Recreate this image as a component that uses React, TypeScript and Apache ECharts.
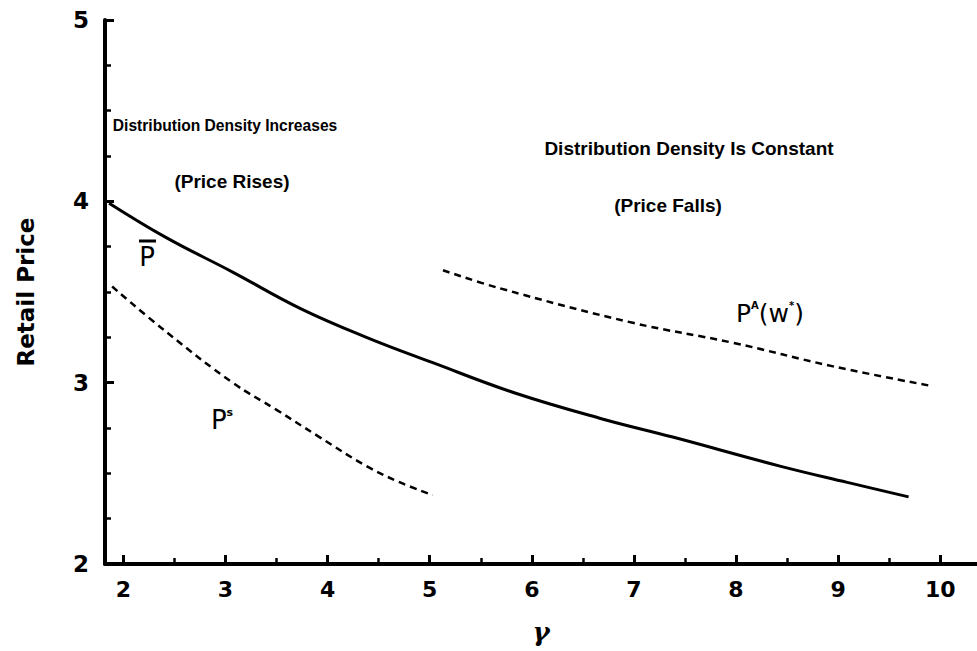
import React, { useEffect, useRef } from "react";
import * as echarts from "echarts";

// Axis ticks
const xTickValues = [2, 3, 4, 5, 6, 7, 8, 9, 10];
const xMinorTickValues = [2.5, 3.5, 4.5, 5.5, 6.5, 7.5, 8.5, 9.5];

// P-bar (solid)
const pBarX = [1.86, 2.42, 3.07, 3.73, 4.38, 5.03, 5.85, 6.69, 7.38, 8.43, 9.09, 9.69];
const pBarY = [3.99, 3.8, 3.61, 3.41, 3.25, 3.11, 2.94, 2.8, 2.7, 2.54, 2.45, 2.37];

// P^s (dashed)
const psX = [1.89, 2.42, 3.07, 3.5, 3.92, 4.38, 4.71, 5.03];
const psY = [3.53, 3.28, 3.0, 2.85, 2.7, 2.54, 2.45, 2.38];

// P^A(w*) (dashed)
const paX = [5.13, 5.69, 6.99, 7.97, 8.95, 9.93];
const paY = [3.62, 3.52, 3.33, 3.22, 3.09, 2.98];

const zip = (xs: number[], ys: number[]) => xs.map((x, i) => [x, ys[i]]);

const annFont = "Liberation Sans";
const numFont = "DejaVu Sans";

export default function App() {
  const ref = useRef<HTMLDivElement>(null);
  useEffect(() => {
    if (!ref.current) return;
    const chart = echarts.init(ref.current, null, { renderer: "svg" });
    const black = "#000";
    chart.setOption({
      animation: false,
      backgroundColor: "#fff",
      grid: { left: 105, right: 0, top: 20, bottom: 87, outerBoundsMode: "none", containLabel: false },
      xAxis: [
        {
          type: "value",
          min: 1.82,
          max: 10.36,
          axisLine: { show: true, lineStyle: { color: black, width: 4 } },
          axisTick: { show: true, inside: true, length: 9, lineStyle: { color: black, width: 3 }, customValues: xTickValues },
          axisLabel: {
            customValues: xTickValues,
            margin: 14,
            fontSize: 22,
            fontWeight: "bold",
            fontFamily: numFont,
            color: black,
          },
          splitLine: { show: false },
          name: "γ",
          nameLocation: "middle",
          nameGap: 55,
          nameTextStyle: {
            fontSize: 26,
            lineHeight: 26,
            fontWeight: "bold",
            fontStyle: "italic",
            fontFamily: "DejaVu Serif",
            color: black,
          },
        },
        {
          type: "value",
          position: "bottom",
          offset: 0,
          min: 1.82,
          max: 10.36,
          axisLine: { show: false },
          axisTick: { show: true, inside: true, length: 6, lineStyle: { color: black, width: 2.5 }, customValues: xMinorTickValues },
          axisLabel: { show: false },
          splitLine: { show: false },
        },
      ],
      yAxis: {
        type: "value",
        min: 2,
        max: 5,
        interval: 1,
        axisLine: { show: true, lineStyle: { color: black, width: 4 } },
        axisTick: { show: true, inside: true, length: 9, lineStyle: { color: black, width: 3 } },
        minorTick: { show: true, splitNumber: 4, length: 6, lineStyle: { color: black, width: 2.5 } },
        axisLabel: { margin: 16, fontSize: 23, fontWeight: "bold", fontFamily: numFont, color: black },
        splitLine: { show: false },
        minorSplitLine: { show: false },
        name: "Retail Price",
        nameLocation: "middle",
        nameGap: 68,
        nameTextStyle: { fontSize: 23, fontWeight: "bold", fontFamily: numFont, color: black },
      },
      series: [
        {
          type: "line",
          name: "Pbar",
          data: zip(pBarX, pBarY),
          smooth: 0.4,
          symbol: "none",
          lineStyle: { color: black, width: 3 },
        },
        {
          type: "line",
          name: "Ps",
          data: zip(psX, psY),
          smooth: 0.4,
          symbol: "none",
          lineStyle: { color: black, width: 2.5, type: [7, 5] },
        },
        {
          type: "line",
          name: "PA",
          data: zip(paX, paY),
          smooth: 0.4,
          symbol: "none",
          lineStyle: { color: black, width: 2.5, type: [7, 5] },
        },
      ],
      graphic: [
        {
          type: "text",
          x: 225,
          y: 125,
          style: {
            text: "Distribution Density Increases",
            font: `bold 15.6px "${annFont}"`,
            fill: black,
            align: "center",
            verticalAlign: "middle",
          },
        },
        {
          type: "text",
          x: 232,
          y: 181,
          style: { text: "(Price Rises)", font: `bold 19px "${annFont}"`, fill: black, align: "center", verticalAlign: "middle" },
        },
        {
          type: "text",
          x: 689,
          y: 148,
          style: {
            text: "Distribution Density Is Constant",
            font: `bold 19px "${annFont}"`,
            fill: black,
            align: "center",
            verticalAlign: "middle",
          },
        },
        {
          type: "text",
          x: 668,
          y: 205,
          style: { text: "(Price Falls)", font: `bold 19px "${annFont}"`, fill: black, align: "center", verticalAlign: "middle" },
        },
        {
          type: "text",
          x: 147,
          y: 257,
          style: { text: "P", font: `26px "${numFont}"`, fill: black, align: "center", verticalAlign: "middle" },
        },
        { type: "line", shape: { x1: 139, y1: 241, x2: 156, y2: 241 }, style: { stroke: black, lineWidth: 3 } },
        {
          type: "text",
          x: 222,
          y: 420,
          style: {
            text: "{a|P}{s|s}",
            rich: {
              a: { font: `26px "${numFont}"`, fill: black },
              s: { font: `bold 11px "${numFont}"`, fill: black, verticalAlign: "top", padding: [0, 0, 16, 0] },
            },
            align: "center",
            verticalAlign: "middle",
          },
        },
        {
          type: "text",
          x: 770,
          y: 313,
          style: {
            text: "{a|P}{s|A}{a|(w}{s|*}{a|)}",
            rich: {
              a: { font: `25px "${numFont}"`, fill: black },
              s: { font: `bold 10px "${numFont}"`, fill: black, padding: [0, 0, 15, 0] },
            },
            align: "center",
            verticalAlign: "middle",
          },
        },
      ],
    });
    return () => chart.dispose();
  }, []);
  return <div ref={ref} style={{ width: 977, height: 651, position: "absolute", left: 0, top: 0 }} />;
}
